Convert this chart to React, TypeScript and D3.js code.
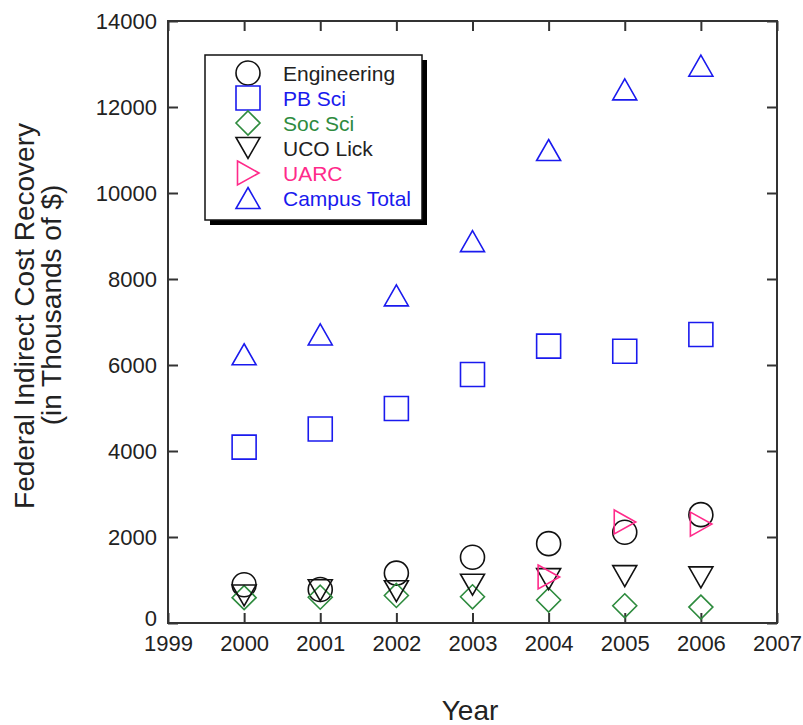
import { useEffect, useRef } from "react";
import * as d3 from "d3";

const years = [2000, 2001, 2002, 2003, 2004, 2005, 2006];
const engineering = [890, 780, 1160, 1530, 1845, 2110, 2520];
const pbSci = [4090, 4510, 4990, 5780, 6440, 6320, 6710];
const socSci = [590, 600, 640, 610, 535, 400, 370];
const ucoLick = [640, 760, 740, 890, 1020, 1090, 1060];
const uarcYears = [2004, 2005, 2006];
const uarc = [1070, 2350, 2300];
const campusTotal = [6250, 6710, 7620, 8880, 11000, 12410, 12960];

const xTicks = [1999, 2000, 2001, 2002, 2003, 2004, 2005, 2006, 2007];
const yTicks = [0, 2000, 4000, 6000, 8000, 10000, 12000, 14000];

const BLUE = "#1a1aee";
const GREEN = "#2e8b3e";
const PINK = "#ff2a8a";
const FONT = "'Liberation Sans', Arial, Helvetica, sans-serif";

// marker outlines, centred on 0,0
const shapes = {
  circle: "M12,0A12,12,0,1,1,-12,0A12,12,0,1,1,12,0Z",
  square: "M-12,-12H12V12H-12Z",
  diamond: "M0,-12L12,0L0,12L-12,0Z",
  down: "M-12,-10.5L12,-10.5L0,10.5Z",
  right: "M-10.5,-12L11,0L-10.5,12Z",
  up: "M0,-10.5L12,10.5L-12,10.5Z",
};

const series = [
  { name: "Engineering", color: "#111", text: "#222", shape: shapes.circle, xs: years, ys: engineering },
  { name: "PB Sci", color: BLUE, text: BLUE, shape: shapes.square, xs: years, ys: pbSci },
  { name: "Soc Sci", color: GREEN, text: GREEN, shape: shapes.diamond, xs: years, ys: socSci },
  { name: "UCO Lick", color: "#111", text: "#222", shape: shapes.down, xs: years, ys: ucoLick },
  { name: "UARC", color: PINK, text: PINK, shape: shapes.right, xs: uarcYears, ys: uarc },
  { name: "Campus Total", color: BLUE, text: BLUE, shape: shapes.up, xs: years, ys: campusTotal },
];

const width = 803;
const height = 725;
const left = 168, right = 777, top = 21, bottom = 623;

export default function App() {
  const axesRef = useRef<SVGGElement>(null);

  const x = d3.scaleLinear().domain([1999, 2007]).range([left, right]);
  const y = d3.scaleLinear().domain([0, 14000]).range([bottom, top]);

  useEffect(() => {
    const g = d3.select(axesRef.current);
    g.selectAll("*").remove();

    const style = (sel: any) => {
      sel.attr("font-family", FONT).attr("font-size", 22);
      sel.selectAll("line").attr("stroke", "#333").attr("stroke-width", 2);
      sel.select(".domain").remove();
      sel.selectAll("text").attr("fill", "#222");
    };

    g.append("g")
      .attr("transform", `translate(0,${bottom})`)
      .call(d3.axisBottom(x).tickValues(xTicks).tickFormat(d3.format("d")).tickSize(-10).tickPadding(12))
      .call(style);
    g.append("g")
      .attr("transform", `translate(0,${top})`)
      .call(d3.axisTop(x).tickValues(xTicks).tickFormat(() => "").tickSize(-10))
      .call(style);
    g.append("g")
      .attr("transform", `translate(${left},0)`)
      .call(d3.axisLeft(y).tickValues(yTicks).tickFormat(d3.format("d")).tickSize(-10).tickPadding(11))
      .call(style);
    g.append("g")
      .attr("transform", `translate(${right},0)`)
      .call(d3.axisRight(y).tickValues(yTicks).tickFormat(() => "").tickSize(-10))
      .call(style);

    // the zero label sits a little above the x labels
    g.selectAll("text").filter((d: any) => d === 0).attr("dy", "0.1em");

    // frame
    g.append("rect")
      .attr("x", left)
      .attr("y", top)
      .attr("width", right - left)
      .attr("height", bottom - top)
      .attr("fill", "none")
      .attr("stroke", "#333")
      .attr("stroke-width", 2);
  }, []);

  const legX = 205, legY = 55, legW = 217, legH = 165;

  return (
    <div style={{ position: "absolute", left: 0, top: 0 }}>
      <svg width={width} height={height} style={{ display: "block", background: "#fff" }}>
        <g ref={axesRef} />

        {series.map((s) => (
          <g key={s.name}>
            {s.ys.map((v, i) => (
              <path
                key={i}
                d={s.shape}
                transform={`translate(${x(s.xs[i])},${y(v)})`}
                fill="none"
                stroke={s.color}
                strokeWidth={1.6}
              />
            ))}
          </g>
        ))}

        <g>
          <rect x={legX + 5} y={legY + 5} width={legW} height={legH} fill="#000" />
          <rect x={legX} y={legY} width={legW} height={legH} fill="#fff" stroke="#111" strokeWidth={1.5} />
          {series.map((s, i) => (
            <g key={s.name} transform={`translate(0,${legY + 18 + i * 25})`}>
              <path d={s.shape} transform="translate(248,0)" fill="none" stroke={s.color} strokeWidth={1.6} />
              <text x={283} y={8} fontFamily={FONT} fontSize={21} fill={s.text}>
                {s.name}
              </text>
            </g>
          ))}
        </g>

        <g fontFamily={FONT} fontSize={28} fill="#222" textAnchor="middle">
          <text transform="translate(34,316) rotate(-90)">Federal Indirect Cost Recovery</text>
          <text transform="translate(61,305) rotate(-90)">(in Thousands of $)</text>
          <text x={470} y={720}>Year</text>
        </g>
      </svg>
    </div>
  );
}
